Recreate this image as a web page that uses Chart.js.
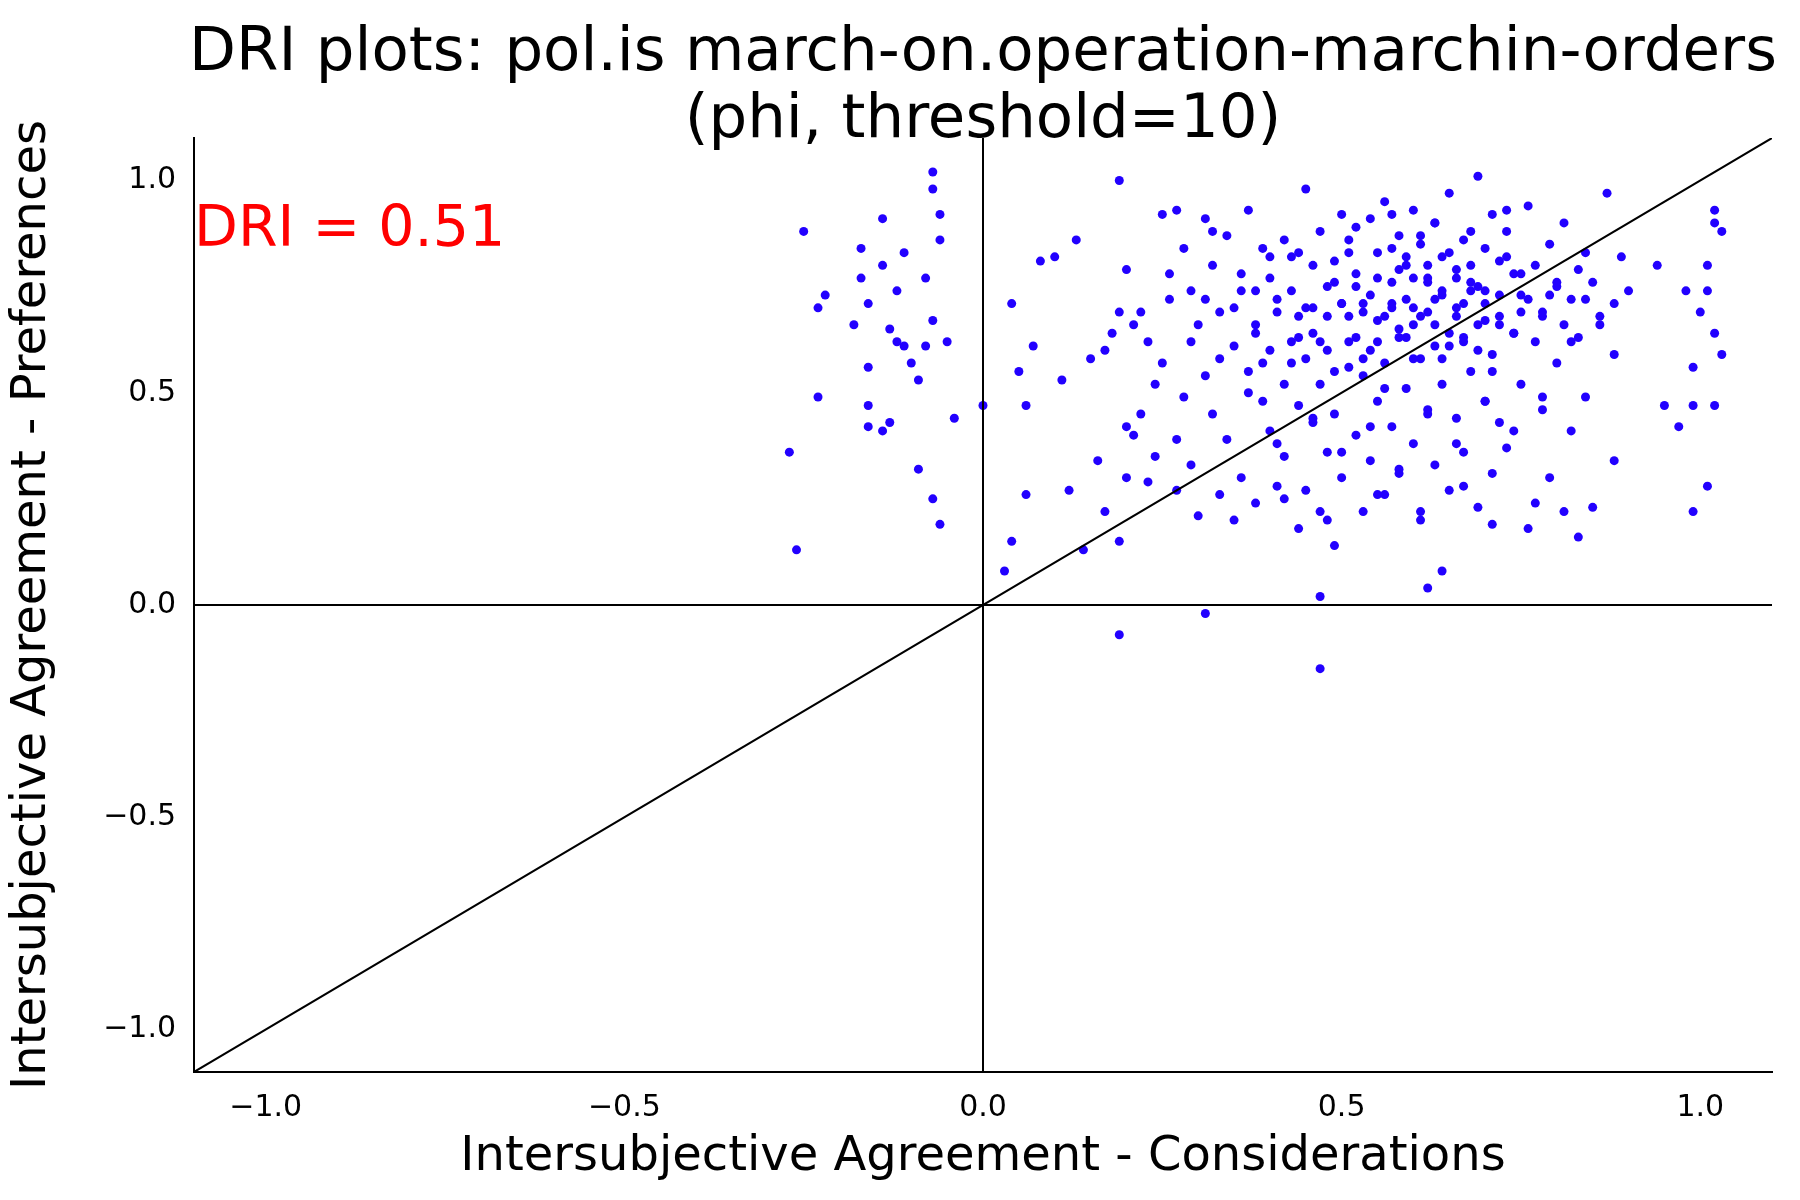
<!DOCTYPE html>
<html><head><meta charset="utf-8">
<script src="https://cdn.jsdelivr.net/npm/chart.js@4"></script>
<style>body{margin:0;background:#fff}canvas{display:block}</style>
</head><body>
<canvas id="c" width="1800" height="1200"></canvas>
<script>
// Considerations (x) / Preferences (y) per statement
const leftX = [-0.27,-0.26,-0.25,-0.23,-0.23,-0.22,-0.18,-0.17,-0.17,-0.16,-0.16,-0.16,-0.14,-0.14,-0.14,-0.13,-0.13,-0.12,-0.11,-0.11,-0.09,-0.09,-0.08,-0.08,-0.07,-0.07,-0.07,-0.07,-0.06,-0.06,-0.06,-0.05,-0.04,0.00,-0.12,-0.16,-0.10];
const leftY = [0.36,0.13,0.88,0.49,0.70,0.73,0.66,0.84,0.77,0.42,0.56,0.47,0.41,0.91,0.80,0.65,0.43,0.62,0.83,0.61,0.32,0.53,0.77,0.61,0.67,0.25,1.02,0.98,0.86,0.19,0.92,0.62,0.44,0.47,0.74,0.71,0.57];

const mainX = [0.03,0.04,0.04,0.05,0.06,0.06,0.07,0.08,0.10,0.11,0.12,0.13,0.14,0.15,0.16,0.17,0.18,0.19,0.19,0.20,0.20,0.21,0.22,0.22,0.23,0.24,0.25,0.25,0.26,0.27,0.27,0.28,0.29,0.29,0.30,0.30,0.31,0.31,0.32,0.32,0.33,0.33,0.34,0.34,0.35,0.35,0.36,0.36,0.37,0.37,0.38,0.38,0.39,0.39,0.40,0.40,0.41,0.41,0.42,0.42,0.42,0.43,0.43,0.44,0.44,0.44,0.45,0.45,0.45,0.46,0.46,0.46,0.47,0.47,0.47,0.48,0.48,0.48,0.49,0.49,0.49,0.50,0.50,0.50,0.51,0.51,0.51,0.52,0.52,0.52,0.53,0.53,0.53,0.54,0.54,0.54,0.55,0.55,0.55,0.56,0.56,0.56,0.57,0.57,0.57,0.58,0.58,0.58,0.59,0.59,0.59,0.60,0.60,0.60,0.61,0.61,0.61,0.62,0.62,0.62,0.63,0.63,0.63,0.64,0.64,0.64,0.65,0.65,0.65,0.66,0.66,0.66,0.67,0.67,0.67,0.68,0.68,0.68,0.69,0.69,0.69,0.70,0.70,0.70,0.71,0.71,0.71,0.72,0.72,0.72,0.73,0.73,0.74,0.74,0.75,0.75,0.76,0.76,0.77,0.77,0.78,0.78,0.79,0.79,0.80,0.80,0.81,0.81,0.82,0.82,0.83,0.83,0.84,0.84,0.85,0.85,0.86,0.87,0.88,0.88,0.89,0.90];
const mainY = [0.08,0.71,0.15,0.55,0.26,0.47,0.61,0.81,0.82,0.53,0.27,0.86,0.13,0.58,0.34,0.22,0.64,1.00,0.15,0.79,0.30,0.40,0.69,0.45,0.62,0.35,0.92,0.57,0.72,0.27,0.93,0.49,0.74,0.33,0.66,0.21,0.91,0.54,0.45,0.80,0.26,0.69,0.39,0.87,0.20,0.61,0.74,0.30,0.50,0.93,0.66,0.24,0.84,0.57,0.41,0.77,0.28,0.69,0.52,0.86,0.35,0.62,0.74,0.18,0.47,0.83,0.58,0.98,0.27,0.70,0.43,0.64,0.22,0.88,0.52,0.75,0.36,0.60,0.81,0.14,0.45,0.71,0.92,0.30,0.56,0.68,0.86,0.40,0.63,0.78,0.22,0.54,0.71,0.91,0.34,0.60,0.83,0.48,0.67,0.95,0.26,0.57,0.76,0.42,0.70,0.87,0.31,0.63,0.80,0.51,0.72,0.93,0.38,0.66,0.85,0.20,0.58,0.77,0.45,0.69,0.90,0.33,0.61,0.82,0.52,0.73,0.97,0.27,0.64,0.79,0.44,0.70,0.86,0.36,0.62,0.76,0.55,0.74,1.01,0.23,0.66,0.84,0.48,0.71,0.92,0.31,0.59,0.81,0.43,0.68,0.88,0.37,0.64,0.78,0.52,0.73,0.94,0.18,0.62,0.80,0.46,0.69,0.85,0.30,0.57,0.75,0.66,0.90,0.41,0.72,0.16,0.63,0.83,0.49,0.23,0.76,0.68,0.97,0.34,0.59,0.82,0.74,0.22,0.64,0.55,0.90,0.70,0.40,0.78,0.61,0.46,0.85,0.69,0.30,0.73,0.65];

// dense core of the main cluster, [x, y] pairs
const corePairs = [
 [0.36,0.78],[0.38,0.64],[0.41,0.72],[0.43,0.57],[0.46,0.80],[0.48,0.68],[0.52,0.75],[0.55,0.62],[0.57,0.84],[0.60,0.70],
 [0.63,0.66],[0.66,0.77],[0.69,0.60],[0.72,0.73],[0.75,0.69],[0.44,0.63],[0.50,0.71],[0.58,0.79],[0.64,0.74],[0.70,0.67],
 [0.53,0.58],[0.59,0.82],[0.67,0.71],[0.40,0.60],[0.62,0.76],[0.35,0.70],[0.37,0.55],[0.39,0.48],[0.41,0.38],[0.43,0.82],
 [0.45,0.70],[0.47,0.62],[0.49,0.55],[0.51,0.83],[0.53,0.69],[0.55,0.77],[0.56,0.51],[0.58,0.65],[0.60,0.58],[0.61,0.87],
 [0.63,0.72],[0.65,0.61],[0.66,0.68],[0.68,0.80],[0.70,0.74],[0.71,0.55],[0.73,0.82],[0.74,0.64],[0.76,0.72],[0.78,0.68],
 [0.80,0.76],[0.82,0.62],[0.84,0.72],[0.86,0.66],[0.88,0.71],[0.52,0.89],[0.57,0.92],[0.63,0.90],[0.68,0.88],[0.73,0.93],
 [0.46,0.44],[0.50,0.36],[0.54,0.42],[0.58,0.32],[0.62,0.46],[0.66,0.38],[0.70,0.48],[0.74,0.41],[0.78,0.49],[0.42,0.25],
 [0.48,0.20],[0.55,0.26],[0.61,0.22],[0.67,0.28],[0.71,0.19],[0.77,0.24],[0.81,0.22],[0.33,0.58],[0.31,0.72],[0.29,0.62],
 [0.26,0.78],[0.24,0.52],[0.21,0.66],[0.19,0.69],[0.17,0.60],[0.27,0.39],[0.23,0.29],[0.20,0.42],[0.28,0.84],[0.32,0.88],
 [0.57,0.71],[0.59,0.63],[0.61,0.68],[0.64,0.58],[0.65,0.83],[0.67,0.63],[0.69,0.75],[0.72,0.66],[0.51,0.62],[0.49,0.76],
 [0.44,0.68],[0.40,0.82],[0.38,0.74],[0.54,0.73],[0.56,0.68],[0.62,0.80],[0.60,0.77],[0.75,0.78],[0.79,0.73],[0.83,0.79]
];

const lowX = [0.19,0.31,0.47,0.47,0.62,0.64];
const lowY = [-0.07,-0.02,-0.15,0.02,0.04,0.08];

const rightX = [0.98,0.99,0.99,0.99,1.00,1.01,1.02,1.02,1.03,1.02,1.03,1.02,1.01,1.01,0.97,0.95,0.94];
const rightY = [0.74,0.56,0.47,0.22,0.69,0.80,0.93,0.90,0.88,0.64,0.59,0.47,0.28,0.74,0.42,0.47,0.80];

const tickValues = [-1.0, -0.5, 0.0, 0.5, 1.0];
const axisMin = -1.1, axisMax = 1.1;
const titleLines = ['DRI plots: pol.is march-on.operation-marchin-orders', '(phi, threshold=10)'];
const driText = 'DRI = 0.51';

function pair(xs, ys) {
  const n = Math.min(xs.length, ys.length);
  const out = [];
  for (let i = 0; i < n; i++) out.push({x: xs[i], y: ys[i]});
  return out;
}
const points = [].concat(
  pair(leftX, leftY), pair(mainX, mainY),
  corePairs.map(p => ({x: p[0], y: p[1]})),
  pair(lowX, lowY), pair(rightX, rightY)
);
const font = 'DejaVu Sans';

const overlay = {
  id: 'overlay',
  afterDraw(chart) {
    const {ctx, scales} = chart;
    ctx.save();
    ctx.fillStyle = '#000';
    ctx.font = '61px "' + font + '"';
    ctx.textAlign = 'center';
    ctx.textBaseline = 'alphabetic';
    const cx = (scales.x.left + scales.x.right) / 2 + 0;
    ctx.fillText(titleLines[0], 983, 70);
    ctx.fillText(titleLines[1], 983, 137);
    ctx.fillStyle = '#ff0000';
    ctx.font = '57px "' + font + '"';
    ctx.textAlign = 'left';
    ctx.textBaseline = 'middle';
    ctx.fillText(driText, scales.x.left, scales.y.getPixelForValue(0.88));
    ctx.restore();
  }
};

const fmt = v => v.toFixed(1).replace('-', '\u2212');

new Chart(document.getElementById('c'), {
  type: 'scatter',
  data: {
    datasets: [
      {data: [{x: axisMin, y: axisMin}, {x: axisMax, y: axisMax}], showLine: true, borderColor: '#000', borderWidth: 2, pointRadius: 0},
      {data: [{x: axisMin, y: 0}, {x: axisMax, y: 0}], showLine: true, borderColor: '#000', borderWidth: 2, pointRadius: 0},
      {data: [{x: 0, y: axisMin}, {x: 0, y: axisMax}], showLine: true, borderColor: '#000', borderWidth: 2, pointRadius: 0},
      {data: points, backgroundColor: '#2200ff', borderColor: '#2200ff', pointRadius: 4.5, borderWidth: 0}
    ]
  },
  options: {
    responsive: false,
    animation: false,
    layout: {padding: {right: 28, top: 138, bottom: 10}},
    plugins: {legend: {display: false}, tooltip: {enabled: false}, title: {display: false}},
    scales: {
      x: {
        type: 'linear', min: axisMin, max: axisMax,
        afterBuildTicks: s => { s.ticks = tickValues.map(v => ({value: v})); },
        afterFit: s => { s.height = 118; },
        ticks: {color: '#000', font: {family: font, size: 30}, callback: fmt, padding: 10},
        grid: {display: false},
        border: {color: '#000', width: 2},
        title: {display: true, text: 'Intersubjective Agreement - Considerations', color: '#000', font: {family: font, size: 48}, padding: {top: 6}}
      },
      y: {
        type: 'linear', min: axisMin, max: axisMax,
        afterBuildTicks: s => { s.ticks = tickValues.map(v => ({value: v})); },
        afterFit: s => { s.width = 194; },
        ticks: {color: '#000', font: {family: font, size: 30}, callback: fmt, padding: 10},
        grid: {display: false},
        border: {color: '#000', width: 2},
        title: {display: true, text: 'Intersubjective Agreement - Preferences', color: '#000', font: {family: font, size: 48}, padding: {bottom: 6}}
      }
    }
  },
  plugins: [overlay]
});
</script>
</body></html>
